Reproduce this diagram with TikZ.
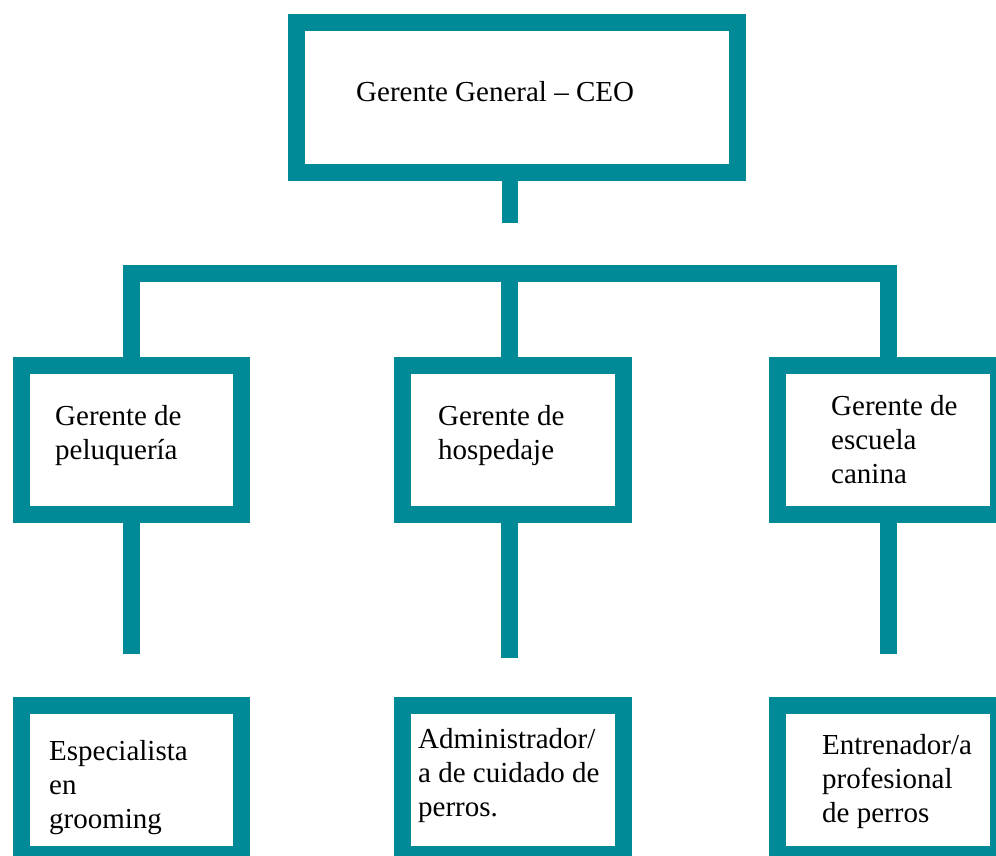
\documentclass[tikz,border=0pt]{standalone}
\usepackage{fontspec}
\setmainfont{Liberation Serif}
\usepackage{xcolor}
\usepackage{tikz}

\definecolor{teal}{RGB}{0,137,150}

\tikzset{
	box/.style={draw=teal, line width=17pt, rectangle, inner sep=0pt, outer sep=0pt, minimum width=221pt, minimum height=149pt},
	link/.style={draw=teal, line width=17pt, line join=miter},
	label/.style={anchor=base west, inner sep=0pt, align=left, font=\fontsize{29}{34}\selectfont}
}

\begin{document}
\begin{tikzpicture}[x=1pt, y=-1pt]
	\clip (0, 0) rectangle (996, 856);
	\fill[white] (0, 0) rectangle (996, 856);
	
	%Level 1
	\node[box, minimum width=441pt, minimum height=150pt] (ceo) at (517, 97.5) {};
	\node[label] (ceot) at (356, 102) {Gerente General – CEO};
	\coordinate (stub) at (510, 223);
	\draw[link, line width=16pt] (ceo.south -| stub) -- (stub);
	
	%Level 2 (text placed at baseline of last line)
	\node[box, minimum width=220pt] (pelu) at (131.5, 440) {};
	\node[box] (hosp) at (513, 440) {};
	\node[box] (escu) at (888, 440) {};
	\node[label] (pelut) at (55, 459) {Gerente de\\peluquería};
	\node[label] (hospt) at (438, 459) {Gerente de\\hospedaje};
	\node[label] (escut) at (831, 483) {Gerente de\\escuela\\canina};
	
	%Bar
	\coordinate (barl) at (131.5, 273.5);
	\coordinate (barm) at (509, 273.5);
	\coordinate (barr) at (888.5, 273.5);
	\draw[link] (pelu.north -| barl) -- (barl) -- (barr) -- (escu.north -| barr);
	\draw[link] (barm) -- (hosp.north -| barm);
	
	%Lines
	\coordinate (dl) at (131.5, 654);
	\coordinate (dm) at (509, 658);
	\coordinate (dr) at (888.5, 654);
	\draw[link] (pelu.south -| dl) -- (dl);
	\draw[link] (hosp.south -| dm) -- (dm);
	\draw[link] (escu.south -| dr) -- (dr);
	
	%Level 3
	\node[box, minimum width=220pt] (groom) at (131.5, 780) {};
	\node[box] (cuid) at (513, 780) {};
	\node[box] (entr) at (888, 780) {};
	\node[label] (groomt) at (49, 828) {Especialista\\en\\grooming};
	\node[label] (cuidt) at (418, 816) {Administrador/\\a de cuidado de\\perros.};
	\node[label] (entrt) at (822, 822) {Entrenador/a\\profesional\\de perros};
\end{tikzpicture}
\end{document}
